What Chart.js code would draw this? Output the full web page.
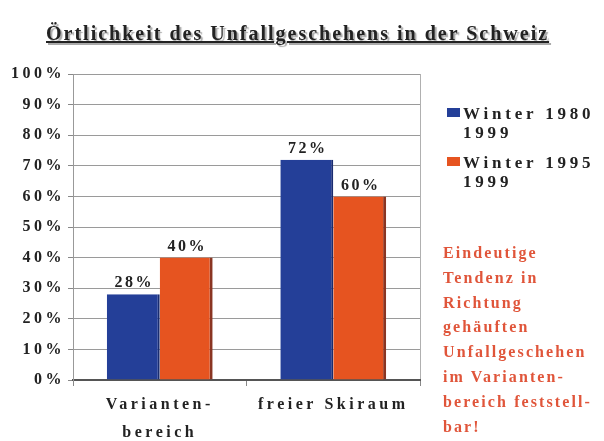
<!DOCTYPE html>
<html>
<head>
<meta charset="utf-8">
<script src="https://cdn.jsdelivr.net/npm/chart.js@4"></script>
<style>
  body { margin: 0; background: #fff; }
  #wrap { position: relative; width: 604px; height: 441px; overflow: hidden; }
  #chart { position: absolute; left: 0; top: 0; }
  .txt { position: absolute; font-family: "Liberation Serif", "DejaVu Serif", serif; font-weight: bold; white-space: nowrap; }
  #title { left: 46px; top: 22px; font-size: 20px; letter-spacing: 2px; color: #222; text-decoration: underline; text-shadow: 2px 2px 1px #aaa; }
  .leg { left: 447px; font-size: 17px; letter-spacing: 3.8px; color: #222; line-height: 19px; }
  .leg span.sw { position: absolute; left: 0; top: 4px; width: 13px; height: 9px; }
  .leg div { padding-left: 16px; }
  #note { left: 443px; top: 241px; font-size: 16px; letter-spacing: 2.1px; line-height: 24.8px; color: #e0553a; }
</style>
</head>
<body>
<div id="wrap">
  <canvas id="chart" width="604" height="441"></canvas>
  <div id="title" class="txt">Örtlichkeit des Unfallgeschehens in der Schweiz</div>
  <div id="legend"></div>
  <div id="note" class="txt">Eindeutige<br>Tendenz in<br>Richtung<br>gehäuften<br>Unfallgeschehen<br>im Varianten-<br>bereich feststell-<br>bar!</div>
</div>
<script>
// data
const categories = [["Varianten-", "bereich"], "freier Skiraum"];
const seriesNames = [["Winter 1980", "1999"], ["Winter 1995", "1999"]];
const winter1980 = [28, 72];
const winter1995 = [40, 60];
const yTicks = [0, 10, 20, 30, 40, 50, 60, 70, 80, 90, 100];

const blue = "#243f98";
const orange = "#e65420";

// html legend
const legendTops = [104, 153];
const legendColors = [blue, orange];
const legendBox = document.getElementById("legend");
seriesNames.forEach((name, i) => {
  const el = document.createElement("div");
  el.className = "txt leg";
  el.style.top = legendTops[i] + "px";
  el.innerHTML = '<span class="sw" style="background:' + legendColors[i] + '"></span><div>' + name.join("<br>") + "</div>";
  legendBox.appendChild(el);
});

// wide letters like the scanned original
const spacing = {
  id: "spacing",
  beforeLayout(chart) { chart.ctx.letterSpacing = "3.5px"; },
  beforeDraw(chart) { chart.ctx.letterSpacing = "3.5px"; },
};

const barLabels = {
  id: "barLabels",
  afterDatasetsDraw(chart) {
    const ctx = chart.ctx;
    ctx.save();
    ctx.font = "bold 16px 'Liberation Serif', serif";
    ctx.letterSpacing = "2.5px";
    ctx.fillStyle = "#222";
    ctx.textAlign = "center";
    ctx.textBaseline = "bottom";
    chart.data.datasets.forEach((ds, i) => {
      chart.getDatasetMeta(i).data.forEach((bar, j) => {
        ctx.fillText(ds.data[j] + "%", bar.x + 1, bar.y - 3);
      });
    });
    ctx.restore();
  },
};

new Chart(document.getElementById("chart"), {
  type: "bar",
  data: {
    labels: categories,
    datasets: [
      {
        label: seriesNames[0].join(" "),
        data: winter1980,
        backgroundColor: blue,
        borderColor: "#1a2c70",
        borderWidth: { top: 0, left: 0, bottom: 0, right: 2 },
      },
      {
        label: seriesNames[1].join(" "),
        data: winter1995,
        backgroundColor: orange,
        borderColor: "#8a3522",
        borderWidth: { top: 0, left: 0, bottom: 0, right: 3 },
      },
    ],
  },
  options: {
    responsive: false,
    animation: false,
    layout: { padding: { top: 74, right: 184, left: 0, bottom: 0 } },
    plugins: { legend: { display: false }, tooltip: { enabled: false } },
    datasets: { bar: { categoryPercentage: 0.61, barPercentage: 1 } },
    scales: {
      x: {
        grid: {
          offset: true,
          color: (c) => (c.index === 1 ? "transparent" : "#b0b0b0"),
          tickColor: "#888",
          tickLength: 6,
        },
        border: { color: "#555", width: 2 },
        ticks: {
          color: "#222",
          padding: 4,
          font: { family: "'Liberation Serif', serif", size: 16, weight: "bold", lineHeight: 1.8 },
        },
        afterFit(scale) { scale.height = 61; },
      },
      y: {
        min: 0,
        max: 100,
        afterBuildTicks(scale) { scale.ticks = yTicks.map((v) => ({ value: v })); },
        grid: { color: "#9a9a9a", tickColor: "#888", tickLength: 5 },
        border: { color: "#999", width: 1 },
        ticks: {
          color: "#222",
          padding: 3,
          callback: (v) => v + "%",
          font: { family: "'Liberation Serif', serif", size: 16, weight: "bold" },
        },
        afterFit(scale) { scale.width = 73; },
      },
    },
  },
  plugins: [spacing, barLabels],
});
</script>
</body>
</html>
